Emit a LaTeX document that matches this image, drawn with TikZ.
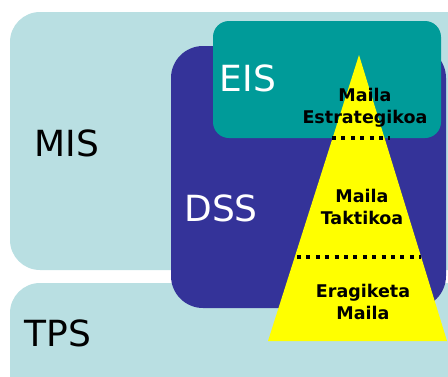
\documentclass[tikz,border=0pt]{standalone}
\usepackage{fontspec}
\setmainfont{DejaVu Sans}
\definecolor{lightbox}{HTML}{B9DFE2}
\definecolor{dssblue}{HTML}{343399}
\definecolor{eisteal}{HTML}{009B99}
\definecolor{pyryellow}{HTML}{FFFF00}
\begin{document}
\begin{tikzpicture}[x=1pt,y=-1pt,
  biglabel/.style={font=\fontsize{36}{40}\selectfont, inner sep=0pt},
  levellabel/.style={font=\bfseries\fontsize{17.5}{22}\selectfont, align=center, inner sep=0pt},
  dotline/.style={line width=4pt, dash pattern=on 4pt off 5.4pt}]
\useasboundingbox (0,0) rectangle (448,376);
\clip (0,0) rectangle (448,376);
% MIS
\fill[lightbox, rounded corners=30] (10,12) rectangle (480,270);
% TPS
\fill[lightbox, rounded corners=30] (10,283) rectangle (480,420);
% DSS
\fill[dssblue, rounded corners=32] (171,46) rectangle (446,308);
% EIS
\fill[eisteal, rounded corners=16] (213,21) rectangle (441,138);
% pyramid
\fill[pyryellow] (359,55) -- (447,341) -- (268,341) -- cycle;
% dotted separators
\coordinate (d1a) at (332,138); \coordinate (d1b) at (390,138);
\coordinate (d2a) at (297,257); \coordinate (d2b) at (421,257);
\draw[dotline] (d1a) -- (d1b);
\draw[dotline] (d2a) -- (d2b);
% labels
\node[biglabel, text=white] (eis) at (248,78) {EIS};
\node[biglabel] (mis) at (67,143) {MIS};
\node[biglabel, text=white] (dss) at (221,208) {DSS};
\node[biglabel] (tps) at (58,333) {TPS};
\node[levellabel] (strat) at (365,108) {Maila\\Estrategikoa};
\node[levellabel] (takt) at (362,207) {Maila\\Taktikoa};
\node[levellabel] (erag) at (363,302) {Eragiketa\\Maila};
\end{tikzpicture}
\end{document}
